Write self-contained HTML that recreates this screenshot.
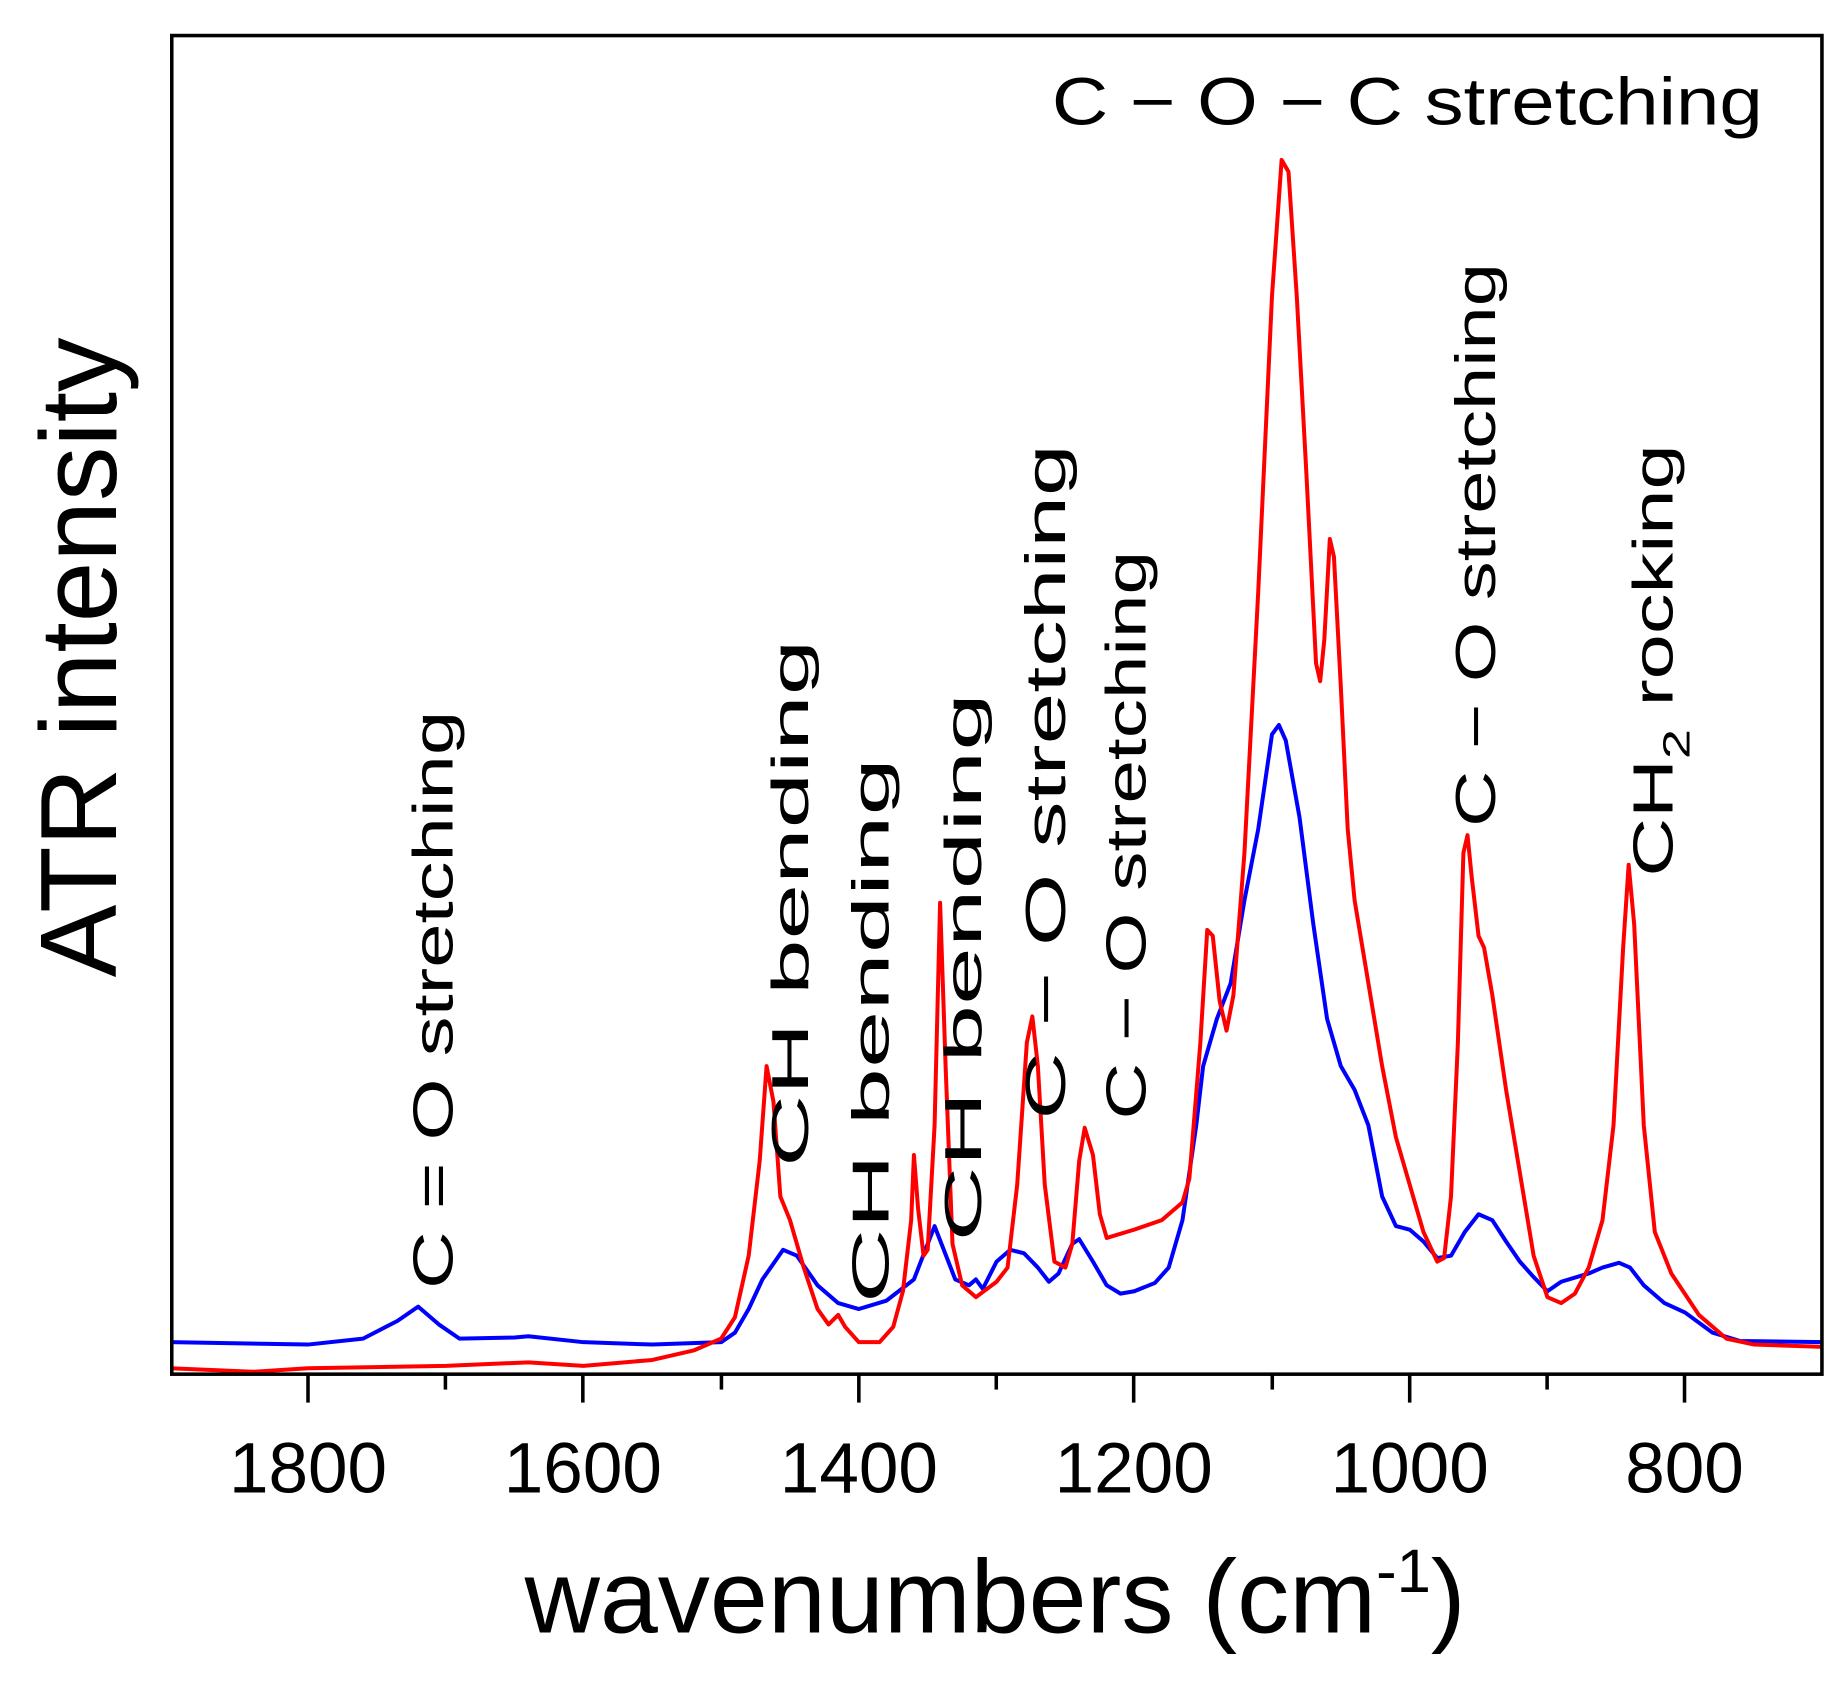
<!DOCTYPE html>
<html><head><meta charset="utf-8"><style>
html,body{margin:0;padding:0;background:#fff;}
svg{display:block;}
text{font-family:"Liberation Sans",sans-serif;fill:#000;}
</style></head><body>
<svg width="1848" height="1681" viewBox="0 0 1560 1419" xmlns="http://www.w3.org/2000/svg">
<rect width="1560" height="1419" fill="#fff"/>
<g transform="matrix(-1.1625 0 0 1 2352.5 0)" fill="none" stroke-linejoin="round">
<polyline vector-effect="non-scaling-stroke" stroke="#0000ff" stroke-width="4" points="1900,1133 1800,1135 1760,1130 1735,1115 1720,1103 1705,1118 1690,1130 1650,1129 1640,1128 1600,1133 1550,1135 1500,1133 1490,1125 1480,1105 1470,1080 1455,1055 1445,1060 1430,1085 1415,1100 1400,1105 1380,1098 1360,1080 1350,1050 1345,1035 1340,1050 1330,1080 1320,1085 1315,1080 1310,1088 1300,1065 1290,1055 1280,1058 1270,1070 1262,1082 1255,1075 1245,1050 1240,1046 1230,1065 1220,1085 1210,1092 1200,1090 1185,1083 1175,1070 1165,1030 1155,950 1150,900 1140,860 1130,830 1120,760 1110,700 1100,620 1095,612 1090,625 1080,690 1070,780 1060,860 1050,900 1040,920 1030,950 1020,1010 1010,1035 1000,1038 990,1048 980,1062 970,1060 960,1040 950,1025 940,1030 930,1048 920,1065 910,1078 900,1090 890,1082 870,1075 860,1070 848,1066 840,1070 830,1085 815,1100 800,1108 780,1125 760,1132 700,1133"/>
<polyline vector-effect="non-scaling-stroke" stroke="#ff0000" stroke-width="4" points="1900,1155 1840,1158 1800,1155 1700,1153 1640,1150 1600,1153 1550,1148 1520,1140 1500,1130 1490,1112 1480,1060 1472,980 1467,900 1462,930 1457,1010 1450,1030 1440,1070 1430,1105 1422,1118 1415,1110 1410,1120 1400,1133 1385,1133 1375,1120 1368,1090 1362,1030 1360,975 1357,1020 1353,1060 1350,1055 1345,950 1341,762 1337,900 1332,1050 1325,1085 1315,1095 1300,1082 1292,1070 1285,1000 1278,880 1274,858 1270,900 1265,1000 1258,1065 1250,1070 1245,1050 1240,980 1236,952 1230,975 1225,1025 1220,1045 1200,1038 1180,1030 1165,1015 1160,995 1152,880 1147,785 1143,790 1138,845 1133,870 1128,840 1120,720 1110,500 1100,250 1093,135 1088,145 1082,250 1075,400 1068,560 1065,575 1062,540 1058,455 1055,470 1050,580 1045,700 1040,760 1030,830 1020,900 1010,960 1000,1000 990,1040 980,1065 975,1062 970,1010 965,880 961,720 958,705 955,740 950,790 946,800 940,840 930,920 920,990 910,1060 900,1095 890,1100 880,1092 870,1070 860,1030 852,950 845,800 841,730 837,780 830,950 822,1040 810,1075 790,1110 770,1130 750,1135 700,1137"/>
</g>
<rect x="145" y="30" width="1393" height="1130" fill="none" stroke="#000" stroke-width="3"/>
<g stroke="#000" stroke-width="3">
<line x1="260" y1="1160" x2="260" y2="1184"/><line x1="376" y1="1160" x2="376" y2="1173"/>
<line x1="492" y1="1160" x2="492" y2="1184"/><line x1="609" y1="1160" x2="609" y2="1173"/>
<line x1="725" y1="1160" x2="725" y2="1184"/><line x1="841" y1="1160" x2="841" y2="1173"/>
<line x1="957" y1="1160" x2="957" y2="1184"/><line x1="1074" y1="1160" x2="1074" y2="1173"/>
<line x1="1190" y1="1160" x2="1190" y2="1184"/><line x1="1306" y1="1160" x2="1306" y2="1173"/>
<line x1="1422" y1="1160" x2="1422" y2="1184"/>
</g>
<g font-size="60" text-anchor="middle">
<text x="260" y="1260">1800</text><text x="492" y="1260">1600</text><text x="725" y="1260">1400</text>
<text x="957" y="1260">1200</text><text x="1190" y="1260">1000</text><text x="1422" y="1260">800</text>
</g>
<text x="840" y="1378" font-size="88" text-anchor="middle">wavenumbers (cm<tspan dy="-34" font-size="52">-1</tspan><tspan dy="34">)</tspan></text>
<text transform="translate(98,555) rotate(-90)" font-size="92" text-anchor="middle">ATR intensity</text>
<text x="888" y="105" font-size="56" textLength="600" lengthAdjust="spacingAndGlyphs">C − O − C  stretching</text>
<g font-size="48">
<text transform="translate(382,1088) rotate(-90)" textLength="488" lengthAdjust="spacingAndGlyphs">C = O  stretching</text>
<text transform="translate(682,985) rotate(-90)" font-size="44" textLength="445" lengthAdjust="spacingAndGlyphs">CH  bending</text>
<text transform="translate(750,1100) rotate(-90)" font-size="44" textLength="460" lengthAdjust="spacingAndGlyphs">CH  bending</text>
<text transform="translate(828,1048) rotate(-90)" font-size="44" textLength="463" lengthAdjust="spacingAndGlyphs">CH  bending</text>
<text transform="translate(899,945) rotate(-90)" textLength="570" lengthAdjust="spacingAndGlyphs">C − O  stretching</text>
<text transform="translate(967,945) rotate(-90)" textLength="480" lengthAdjust="spacingAndGlyphs">C − O  stretching</text>
<text transform="translate(1262,698) rotate(-90)" textLength="476" lengthAdjust="spacingAndGlyphs">C − O  stretching</text>
<text transform="translate(1412,740) rotate(-90)" textLength="365" lengthAdjust="spacingAndGlyphs">CH<tspan font-size="32" dy="14">2</tspan><tspan dy="-14">  rocking</tspan></text>
</g>
</svg>
</body></html>
